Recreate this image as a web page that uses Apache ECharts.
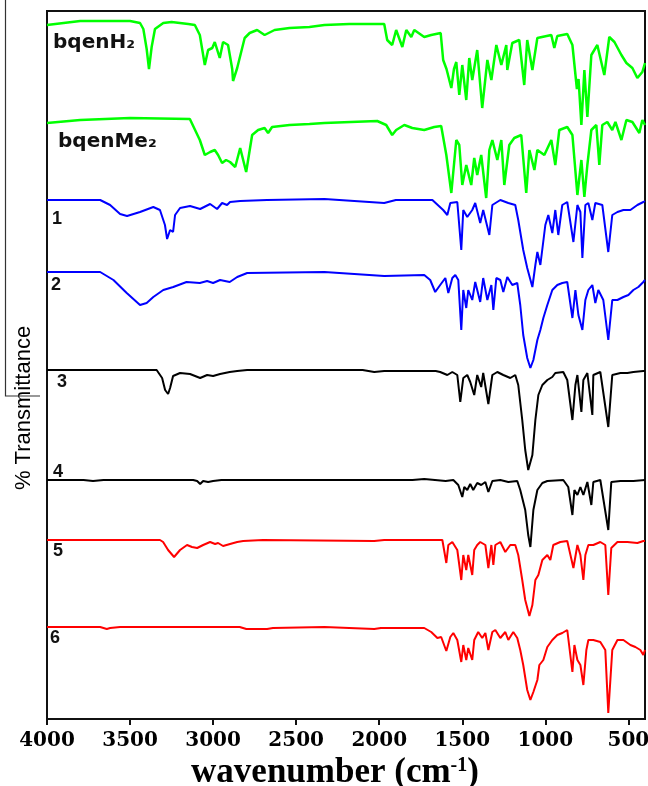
<!DOCTYPE html>
<html>
<head>
<meta charset="utf-8">
<script src="https://cdn.jsdelivr.net/npm/echarts@6/dist/echarts.min.js"></script>
<style>
  html, body { margin: 0; padding: 0; background: #fff; }
  #chart { width: 648px; height: 786px; }
</style>
</head>
<body>
<div id="chart"></div>
<script>
// wavenumber ticks (cm-1)
const xTicks = [4000, 3500, 3000, 2500, 2000, 1500, 1000, 500];

// each spectrum: [wavenumber, transmittance (stacked, arbitrary units)]
const bqenH2 = [
  [4000, 694], [3900, 696], [3800, 698], [3500, 698], [3440, 696], [3420, 690], [3400, 670],
  [3386, 650], [3370, 672], [3350, 690], [3300, 696], [3250, 697], [3150, 695], [3110, 694],
  [3080, 684], [3050, 654], [3030, 669], [3005, 671], [2990, 677], [2960, 661], [2940, 677],
  [2910, 674], [2885, 650], [2880, 638], [2855, 651], [2810, 681], [2780, 686], [2735, 689],
  [2690, 684], [2630, 689], [2540, 691], [2420, 692], [2330, 694], [2180, 695], [1970, 695],
  [1952, 679], [1922, 674], [1898, 689], [1861, 672], [1837, 689], [1807, 682], [1789, 689],
  [1729, 682], [1687, 684], [1630, 686], [1615, 659], [1595, 650], [1566, 631], [1550, 650],
  [1536, 657], [1518, 624], [1500, 654], [1476, 619], [1458, 661], [1440, 639], [1410, 669],
  [1380, 611], [1349, 659], [1325, 639], [1295, 674], [1265, 654], [1235, 674], [1229, 649],
  [1199, 676], [1157, 679], [1127, 634], [1109, 679], [1078, 649], [1048, 681], [964, 684],
  [946, 671], [928, 683], [868, 685], [837, 674], [810, 630], [800, 640], [783, 594],
  [765, 649], [747, 602], [723, 664], [687, 674], [645, 644], [615, 682], [584, 677],
  [542, 664], [512, 656], [476, 651], [446, 641], [416, 647], [400, 656]
];

const bqenMe2 = [
  [4000, 596], [3800, 599], [3500, 601], [3140, 600], [3080, 579], [3050, 564], [3018, 567],
  [2990, 569], [2970, 564], [2946, 556], [2922, 559], [2898, 557], [2867, 552], [2837, 571],
  [2801, 547], [2765, 584], [2729, 589], [2690, 591], [2669, 586], [2645, 592], [2540, 594],
  [2420, 595], [2330, 596], [2012, 598], [1958, 594], [1922, 584], [1898, 589], [1849, 594],
  [1801, 591], [1729, 589], [1669, 592], [1627, 593], [1596, 564], [1566, 526], [1536, 579],
  [1518, 574], [1500, 534], [1476, 554], [1446, 534], [1428, 561], [1410, 544], [1386, 564],
  [1356, 521], [1337, 569], [1319, 579], [1289, 559], [1265, 579], [1247, 534], [1217, 574],
  [1187, 581], [1145, 584], [1115, 526], [1096, 569], [1066, 549], [1048, 569], [1006, 564],
  [964, 579], [940, 554], [916, 589], [868, 592], [837, 584], [807, 524], [783, 559],
  [765, 522], [747, 554], [723, 589], [693, 594], [675, 554], [657, 594], [627, 597],
  [597, 589], [578, 597], [542, 579], [512, 599], [476, 597], [434, 586], [416, 599], [400, 594]
];

const complex1 = [
  [4000, 519], [3680, 519], [3620, 514], [3560, 505], [3518, 503], [3440, 507], [3360, 512],
  [3320, 509], [3290, 494], [3277, 480], [3259, 489], [3241, 487], [3229, 504], [3199, 511],
  [3139, 513], [3078, 510], [3018, 515], [2976, 510], [2946, 516], [2916, 514], [2898, 517],
  [2837, 518], [2675, 519], [2330, 520], [1970, 516], [1900, 519], [1680, 519], [1615, 509],
  [1590, 504], [1572, 516], [1530, 517], [1506, 469], [1494, 509], [1470, 502], [1440, 509],
  [1422, 516], [1392, 496], [1374, 509], [1337, 484], [1319, 514], [1271, 519], [1223, 516],
  [1181, 514], [1163, 499], [1133, 469], [1109, 451], [1078, 432], [1060, 454], [1048, 467],
  [1030, 454], [1000, 494], [982, 504], [958, 486], [940, 509], [922, 484], [898, 514],
  [868, 517], [831, 477], [807, 514], [789, 507], [777, 461], [759, 514], [741, 516],
  [717, 499], [699, 516], [657, 514], [621, 467], [597, 504], [566, 507], [530, 509],
  [488, 509], [446, 514], [410, 517], [400, 518]
];

const complex2 = [
  [4000, 447], [3680, 447], [3600, 439], [3520, 426], [3440, 414], [3400, 416], [3360, 422],
  [3300, 429], [3240, 432], [3160, 437], [3080, 436], [3036, 438], [3000, 436], [2958, 439],
  [2900, 437], [2855, 442], [2795, 446], [2330, 447], [1970, 443], [1729, 444], [1693, 439],
  [1663, 427], [1633, 434], [1602, 441], [1584, 426], [1560, 441], [1542, 444], [1524, 439],
  [1506, 389], [1494, 429], [1476, 411], [1464, 429], [1440, 419], [1422, 437], [1392, 417],
  [1374, 441], [1349, 419], [1325, 434], [1313, 409], [1295, 441], [1271, 439], [1253, 427],
  [1229, 442], [1199, 434], [1169, 436], [1151, 414], [1133, 384], [1109, 361], [1090, 351],
  [1072, 359], [1048, 379], [1030, 389], [1012, 401], [988, 414], [958, 429], [928, 434],
  [898, 436], [868, 437], [837, 401], [819, 429], [801, 404], [777, 389], [759, 419],
  [741, 429], [717, 434], [699, 416], [681, 429], [651, 419], [621, 379], [597, 419],
  [566, 419], [530, 422], [500, 424], [470, 429], [440, 432], [410, 437], [400, 439]
];

const complex3 = [
  [4000, 349], [3340, 349], [3307, 341], [3289, 329], [3271, 325], [3259, 331], [3241, 343],
  [3199, 346], [3139, 345], [3078, 341], [3036, 344], [3000, 343], [2958, 345], [2900, 347],
  [2855, 348], [2795, 349], [2100, 349], [2030, 347], [1970, 348], [1660, 348], [1633, 347],
  [1590, 344], [1560, 347], [1530, 344], [1512, 317], [1494, 341], [1470, 344], [1452, 337],
  [1428, 324], [1410, 344], [1386, 332], [1374, 346], [1343, 315], [1319, 344], [1289, 347],
  [1253, 344], [1211, 341], [1181, 344], [1163, 334], [1139, 299], [1121, 269], [1103, 249],
  [1078, 264], [1060, 299], [1042, 324], [1018, 334], [988, 339], [958, 342], [940, 346],
  [892, 347], [868, 339], [837, 299], [819, 334], [807, 344], [783, 307], [771, 339],
  [747, 346], [717, 304], [711, 344], [669, 347], [621, 292], [597, 344], [548, 346],
  [506, 346], [470, 347], [410, 348], [400, 348]
];

const complex4 = [
  [4000, 239], [3780, 239], [3723, 238], [3660, 239], [3120, 239], [3096, 238], [3078, 235],
  [3060, 238], [3030, 237], [3000, 238], [2950, 239], [1800, 239], [1729, 240], [1600, 238],
  [1554, 239], [1524, 234], [1500, 222], [1488, 232], [1470, 229], [1452, 235], [1434, 229],
  [1410, 236], [1386, 234], [1361, 237], [1343, 227], [1319, 238], [1271, 239], [1223, 237],
  [1169, 238], [1151, 229], [1121, 209], [1103, 184], [1090, 172], [1072, 209], [1048, 229],
  [1018, 236], [988, 238], [892, 239], [862, 232], [837, 204], [825, 229], [807, 224],
  [789, 232], [771, 224], [747, 237], [723, 214], [711, 237], [669, 239], [621, 189],
  [603, 237], [548, 238], [470, 238], [400, 239]
];

const complex5 = [
  [4000, 179], [3320, 179], [3301, 177], [3271, 169], [3235, 162], [3199, 169], [3157, 174],
  [3127, 172], [3096, 171], [3060, 174], [3018, 177], [2988, 175], [2970, 176], [2940, 173],
  [2898, 175], [2855, 177], [2819, 178], [2700, 179], [2030, 178], [1970, 179], [1620, 179],
  [1615, 178], [1596, 156], [1584, 174], [1560, 177], [1530, 169], [1506, 139], [1494, 164],
  [1476, 149], [1464, 164], [1440, 144], [1428, 169], [1410, 174], [1392, 177], [1361, 174],
  [1343, 151], [1325, 174], [1313, 154], [1301, 174], [1271, 177], [1241, 167], [1211, 174],
  [1181, 174], [1163, 164], [1139, 139], [1121, 119], [1096, 103], [1078, 114], [1060, 139],
  [1042, 144], [1018, 159], [988, 164], [970, 159], [952, 174], [910, 177], [868, 178],
  [831, 151], [807, 174], [789, 164], [771, 139], [759, 164], [741, 174], [711, 174],
  [669, 177], [639, 174], [621, 124], [603, 171], [566, 177], [506, 177], [446, 176],
  [410, 178], [400, 178]
];

const complex6 = [
  [4000, 92], [3680, 92], [3640, 90], [3620, 91], [3560, 92], [2840, 92], [2800, 90],
  [2675, 90], [2640, 91], [2330, 92], [2030, 90], [1990, 91], [1729, 91], [1687, 87],
  [1650, 81], [1627, 82], [1596, 68], [1572, 82], [1554, 86], [1530, 79], [1506, 57],
  [1494, 74], [1476, 59], [1464, 71], [1440, 59], [1428, 79], [1404, 87], [1380, 81],
  [1361, 86], [1343, 69], [1319, 87], [1301, 89], [1271, 81], [1241, 87], [1223, 79],
  [1193, 87], [1169, 81], [1151, 69], [1133, 54], [1109, 29], [1090, 19], [1072, 27],
  [1048, 39], [1036, 54], [1012, 59], [988, 72], [958, 79], [928, 84], [898, 86],
  [868, 89], [837, 47], [825, 74], [807, 59], [789, 54], [771, 34], [753, 69],
  [741, 79], [711, 79], [669, 77], [639, 69], [621, 6], [597, 69], [566, 79],
  [530, 79], [488, 74], [458, 72], [428, 69], [410, 64], [400, 69]
];

const traceNames = ['bqenH₂', 'bqenMe₂', '1', '2', '3', '4', '5', '6'];
const traceData = [bqenH2, bqenMe2, complex1, complex2, complex3, complex4, complex5, complex6];
const traceColors = ['#00ff00', '#00ff00', '#0000ff', '#0000ff', '#000000', '#000000', '#ff0000', '#ff0000'];

const chart = echarts.init(document.getElementById('chart'));

const series = traceData.map((d, i) => ({
  name: traceNames[i],
  type: 'line',
  data: d,
  showSymbol: false,
  lineStyle: { color: traceColors[i], width: i < 2 ? 2.5 : 2 },
  itemStyle: { color: traceColors[i] },
  z: 2
}));

// label positions beside each trace start
const labelPos = [
  [53, 45, 20], [58, 144, 20], [52, 221, 18], [51, 287, 18],
  [57, 384, 18], [53, 474, 18], [53, 553, 18], [50, 640, 18]
];

const labels = traceNames.map((t, i) => ({
  type: 'text',
  left: labelPos[i][0],
  top: labelPos[i][1] - labelPos[i][2] * 0.6,
  style: {
    text: t,
    fill: '#111',
    font: 'bold ' + labelPos[i][2] + 'px ' + (i < 2 ? '"DejaVu Sans"' : '"Liberation Sans", Arial')
  },
  z: 10
}));

chart.setOption({
  animation: false,
  backgroundColor: '#fff',
  grid: {
    left: 47, right: 3, top: 11, bottom: 67,
    outerBoundsMode: 'none',
    show: true, borderColor: '#111', borderWidth: 2
  },
  xAxis: {
    type: 'value',
    min: 400,
    max: 4000,
    inverse: true,
    axisLine: { lineStyle: { color: '#111', width: 2 } },
    axisTick: { show: true, customValues: xTicks, length: 6, lineStyle: { color: '#111', width: 2 } },
    axisLabel: {
      customValues: xTicks,
      formatter: v => String(v),
      hideOverlap: false,
      color: '#000',
      fontFamily: '"DejaVu Serif"',
      fontWeight: 'bold',
      fontSize: 20,
      margin: 12
    },
    splitLine: { show: false },
    name: 'wavenumber (cm{sup|-1})',
    nameLocation: 'middle',
    nameGap: 30,
    nameTextStyle: {
      color: '#000',
      fontFamily: '"Liberation Serif", "Times New Roman"',
      fontWeight: 'bold',
      fontSize: 35,
      padding: [0, 22, 0, 0],
      rich: {
        sup: {
          fontFamily: '"Liberation Serif", "Times New Roman"',
          fontWeight: 'bold',
          fontSize: 20,
          verticalAlign: 'top',
          color: '#000'
        }
      }
    }
  },
  yAxis: {
    type: 'value',
    min: 0,
    max: 708,
    axisLine: { show: true, lineStyle: { color: '#111', width: 2 } },
    axisTick: { show: false },
    axisLabel: { show: false },
    splitLine: { show: false }
  },
  series: series,
  graphic: [
    ...labels,
    {
      type: 'text',
      x: 24,
      y: 408,
      rotation: Math.PI / 2,
      style: {
        text: '% Transmittance',
        fill: '#000',
        font: '22px "Liberation Sans", Arial',
        align: 'center',
        verticalAlign: 'middle'
      }
    },
    {
      type: 'polyline',
      shape: { points: [[5.5, 0], [5.5, 396], [40, 396]] },
      style: { stroke: '#333', lineWidth: 1.2, fill: null }
    }
  ]
});
</script>
</body>
</html>
